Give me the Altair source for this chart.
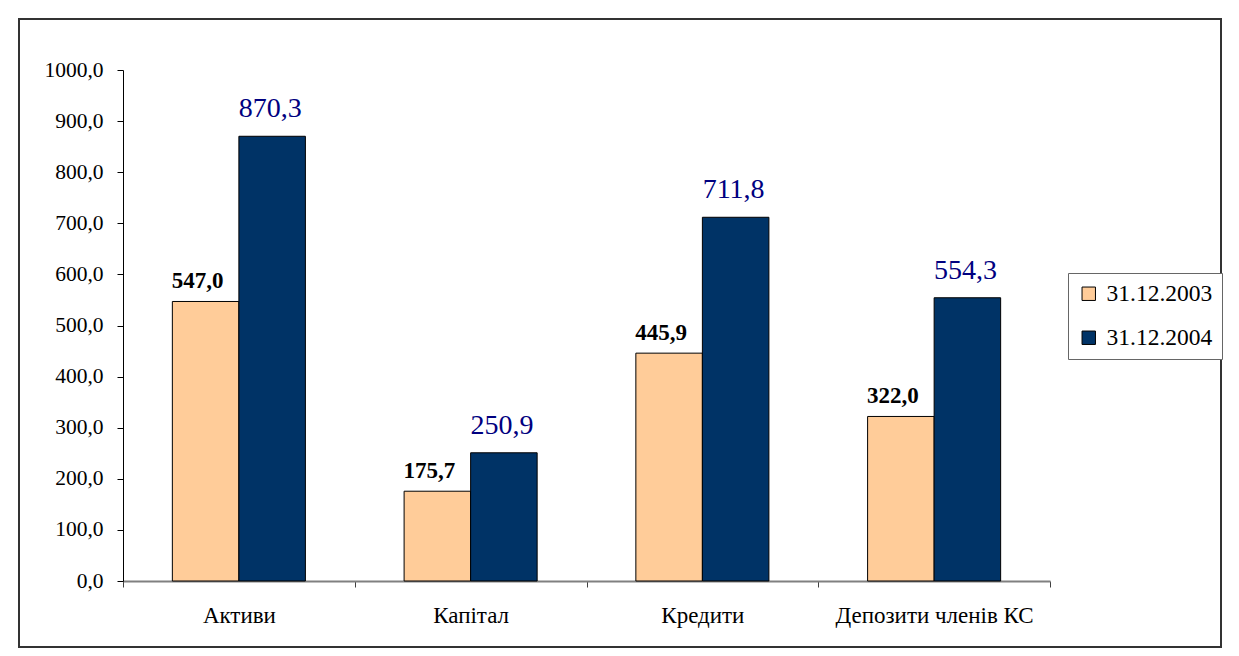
import altair as alt
import pandas as pd

categories = ["Активи", "Капітал", "Кредити", "Депозити членів КС"]
series = ["31.12.2003", "31.12.2004"]
values_2003 = [547.0, 175.7, 445.9, 322.0]
values_2004 = [870.3, 250.9, 711.8, 554.3]
y_ticks = [0, 100, 200, 300, 400, 500, 600, 700, 800, 900, 1000]
colors = ["#FFCC99", "#003366"]

rows = []
for c, v in zip(categories, values_2003):
    rows.append({"cat": c, "series": series[0], "value": v})
for c, v in zip(categories, values_2004):
    rows.append({"cat": c, "series": series[1], "value": v})
df = pd.DataFrame(rows)

FONT = "'Times New Roman', 'Liberation Serif', serif"
W, H = 927, 511

x_enc = alt.X("cat:N", sort=categories, title=None,
              scale=alt.Scale(paddingInner=0, paddingOuter=0),
              axis=alt.Axis(labelAngle=0, labelFont=FONT, labelFontSize=23, labelColor="black",
                            labelLimit=0,
                            domainColor="#808080", domainWidth=2, tickColor="#404040",
                            tickSize=6, tickBand="extent", labelPadding=17, grid=False))
xoff_enc = alt.XOffset("series:N", sort=series,
                       scale=alt.Scale(paddingInner=0, paddingOuter=0.742))
y_enc = alt.Y("value:Q", title=None,
              scale=alt.Scale(domain=[0, 1000], nice=False, zero=True),
              axis=alt.Axis(values=y_ticks, labelFont=FONT, labelFontSize=21.5, labelColor="black",
                            domainColor="black", tickColor="black", tickSize=6, labelPadding=14,
                            grid=False,
                            labelExpr="replace(format(datum.value, '.1f'), '.', ',')"))

base = alt.Chart(df)

bars = base.mark_bar(stroke="black", strokeWidth=1).encode(
    x=x_enc, xOffset=xoff_enc, y=y_enc,
    color=alt.Color("series:N", sort=series, title=None,
                    scale=alt.Scale(domain=series, range=colors),
                    legend=alt.Legend(orient="none", legendX=945, legendY=203,
                                      strokeColor="#666666", fillColor="white", padding=9,
                                      symbolType="square", symbolSize=180,
                                      symbolStrokeColor="black", symbolStrokeWidth=1,
                                      labelFont=FONT, labelFontSize=23.5, labelColor="black",
                                      labelOffset=6, rowPadding=19)),
)

lab_a = base.transform_filter(alt.datum.series == series[0]).transform_calculate(
    lab="replace(format(datum.value, '.1f'), '.', ',')"
).mark_text(font=FONT, fontSize=23, fontWeight="bold", color="black",
            baseline="alphabetic", dy=-13, dx=-8).encode(
    x=alt.X("cat:N", sort=categories), xOffset=alt.XOffset("series:N", sort=series),
    y="value:Q", text="lab:N")

lab_b = base.transform_filter(alt.datum.series == series[1]).transform_calculate(
    lab="replace(format(datum.value, '.1f'), '.', ',')"
).mark_text(font=FONT, fontSize=28, color="#000080",
            baseline="alphabetic", dy=-19, dx=-2).encode(
    x=alt.X("cat:N", sort=categories), xOffset=alt.XOffset("series:N", sort=series),
    y="value:Q", text="lab:N")

frame_data = alt.Data(values=[{"k": 1}])
outer = alt.Chart(frame_data).mark_rect(fill=None, stroke="black", strokeWidth=2, clip=False).encode(
    x=alt.value(-116), x2=alt.value(1110), y=alt.value(-63), y2=alt.value(640))
inner = alt.Chart(frame_data).mark_rect(fill=None, stroke="#333333", strokeWidth=2, clip=False).encode(
    x=alt.value(-104), x2=alt.value(1098), y=alt.value(-51), y2=alt.value(577))

chart = alt.layer(outer, inner, bars, lab_a, lab_b).properties(
    width=W, height=H,
    autosize=alt.AutoSizeParams(type="none"),
    padding={"left": 115, "top": 62, "right": 181, "bottom": 67},
    background="white",
).configure_view(stroke=None)

chart.save("out.html", embed_options={"renderer": "svg", "actions": False})
